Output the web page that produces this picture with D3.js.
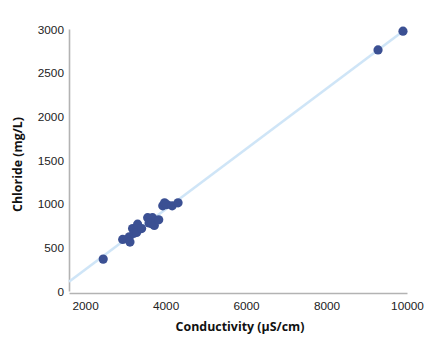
<!DOCTYPE html>
<html>
<head>
<meta charset="utf-8">
<script src="https://cdn.jsdelivr.net/npm/d3@7"></script>
<style>
  body { margin: 0; background: #fff; }
  svg { display: block; font-family: "Open Sans", "DejaVu Sans", sans-serif; }
  .tick text { font-size: 11.8px; fill: #222; }
  .title { font-size: 12.4px; font-weight: bold; fill: #111; }
</style>
</head>
<body>
<div id="chart"></div>
<script>
// measured samples
const conductivity = [2450, 2935, 3100, 3115, 3180, 3215, 3305, 3280, 3405, 3555,
                      3675, 3590, 3655, 3720, 3830, 3930, 3975, 4030, 4165, 4310, 9280, 9900];
const chloride     = [365, 590, 620, 560, 715, 660, 765, 670, 715, 840,
                      840, 780, 770, 750, 815, 975, 1010, 990, 975, 1010, 2760, 2975];

// fitted line endpoints
const fitX = [1600, 9900];
const fitY = [105, 2975];

const xTicks = [2000, 4000, 6000, 8000, 10000];
const yTicks = [0, 500, 1000, 1500, 2000, 2500, 3000];

const width = 435, height = 351;
const margin = {top: 29, right: 28, bottom: 59, left: 69};

const svg = d3.select("#chart").append("svg")
    .attr("width", width)
    .attr("height", height);

const x = d3.scaleLinear()
    .domain([1600, 10000])
    .range([margin.left, width - margin.right]);

const y = d3.scaleLinear()
    .domain([0, 3000])
    .range([height - margin.bottom - 1, margin.top]);

// axes
const xAxis = svg.append("g")
    .attr("transform", `translate(0,${height - margin.bottom + 1})`)
    .call(d3.axisBottom(x).tickValues(xTicks).tickSize(0).tickPadding(9).tickFormat(d3.format("d")));

const yAxis = svg.append("g")
    .attr("transform", `translate(${margin.left},0)`)
    .call(d3.axisLeft(y).tickValues(yTicks).tickSize(0).tickPadding(5).tickFormat(d3.format("d")));

[xAxis, yAxis].forEach(a => {
    a.select(".domain").attr("stroke", "#b3b3b3").attr("stroke-width", 1.6);
    a.selectAll(".tick text").attr("font-family", null).attr("font-size", null);
});
yAxis.selectAll(".tick text").attr("dy", "0.36em");

// fitted line
svg.append("line")
    .attr("x1", x(fitX[0])).attr("y1", y(fitY[0]))
    .attr("x2", x(fitX[1])).attr("y2", y(fitY[1]))
    .attr("stroke", "#cfe5f7")
    .attr("stroke-width", 2.6);

// points
svg.append("g")
    .selectAll("circle")
    .data(conductivity.map((c, i) => [c, chloride[i]]))
    .join("circle")
    .attr("cx", d => x(d[0]))
    .attr("cy", d => y(d[1]))
    .attr("r", 4.6)
    .attr("fill", "#3b5093");

// titles
svg.append("text")
    .classed("title", true)
    .attr("x", (margin.left + width - margin.right) / 2 + 2)
    .attr("y", 331)
    .attr("text-anchor", "middle")
    .text("Conductivity (µS/cm)");

svg.append("text")
    .classed("title", true)
    .attr("transform", `translate(22,${(margin.top + height - margin.bottom) / 2 + 4}) rotate(-90)`)
    .attr("text-anchor", "middle")
    .text("Chloride (mg/L)");
</script>
</body>
</html>
